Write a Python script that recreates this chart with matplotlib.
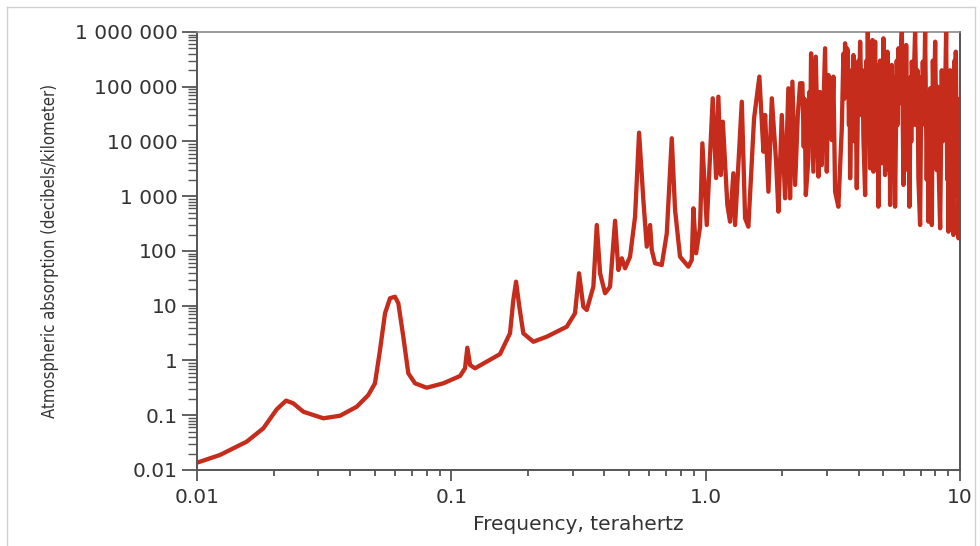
import matplotlib
matplotlib.use("Agg")
import matplotlib.pyplot as plt
from matplotlib.ticker import FixedLocator, FixedFormatter, NullFormatter
from matplotlib.lines import Line2D

# ---- data (read / estimated from the reference picture) ----
freq_thz = [
    0.0100, 0.01231, 0.01568, 0.01823, 0.02058, 0.02239, 0.02392, 0.02618, 0.03139, 0.03651,
    0.04246, 0.04716, 0.0501, 0.05244, 0.05487, 0.05741, 0.06006, 0.06189, 0.06474, 0.06775,
    0.0720, 0.0800, 0.0930, 0.1082, 0.1132, 0.1156, 0.1185, 0.1239, 0.1554, 0.1701,
    0.1753, 0.1797, 0.1851, 0.1919, 0.2101, 0.2372, 0.2843, 0.3064, 0.3178, 0.3304,
    0.3408, 0.3618, 0.3732, 0.3845, 0.4022, 0.4208, 0.4404, 0.4537, 0.4679, 0.4821,
    0.5043, 0.5278, 0.5472, 0.5689, 0.5867, 0.6045, 0.6139, 0.6324, 0.6721, 0.7034,
    0.7357, 0.7580, 0.7930, 0.8551, 0.8817, 0.8949, 0.9169, 0.9506, 0.9707, 1.010,
    1.066, 1.099, 1.122, 1.147, 1.168, 1.217, 1.247, 1.285, 1.305, 1.387,
    1.429, 1.472, 1.550, 1.626, 1.687, 1.713, 1.765, 1.820, 1.892, 1.932,
    1.992, 2.052, 2.114, 2.147, 2.193, 2.247, 2.303, 2.351, 2.401, 2.430,
    2.450, 2.476, 2.535, 2.555, 2.575, 2.597, 2.651, 2.710, 2.775, 2.815,
    2.861, 2.948, 2.994, 3.038, 3.070, 3.100, 3.132, 3.178, 3.228, 3.325,
    3.429, 3.480, 3.505, 3.533, 3.575, 3.600, 3.621,
    3.660, 3.680, 3.698, 3.750, 3.780, 3.809, 3.850, 3.885, 3.928, 3.990,
    4.015, 4.048, 4.110, 4.140, 4.171, 4.236, 4.290, 4.315, 4.340, 4.385,
    4.410, 4.432, 4.480, 4.500, 4.525, 4.566, 4.637, 4.680, 4.730, 4.777,
    4.850, 4.920, 4.997, 5.075, 5.130, 5.155, 5.182, 5.245, 5.280, 5.311,
    5.393, 5.440, 5.500, 5.556, 5.640, 5.680, 5.725, 5.800, 5.850, 5.905,
    5.993, 6.060, 6.100, 6.141, 6.230, 6.280, 6.324, 6.400, 6.430, 6.464,
    6.560, 6.610, 6.660, 6.760, 6.800, 6.862, 6.968, 7.050, 7.090, 7.140,
    7.210, 7.292, 7.400, 7.460, 7.514, 7.631, 7.748, 7.820, 7.900, 7.984,
    8.100, 8.160, 8.226, 8.354, 8.480, 8.540, 8.604, 8.700, 8.819, 8.910,
    8.960, 9.004, 9.150, 9.220, 9.286, 9.421, 9.520, 9.570, 9.627, 9.740,
    9.800, 9.856, 10.01,
]
absorption_db_km = [
    0.0136, 0.0188, 0.0329, 0.0577, 0.128, 0.185, 0.165, 0.116, 0.088, 0.098,
    0.143, 0.234, 0.383, 1.555, 7.28, 13.7, 14.6, 11.1, 2.72, 0.583,
    0.383, 0.318, 0.383, 0.521, 0.72, 1.71, 0.828, 0.72, 1.31, 3.14,
    12.7, 27.5, 9.6, 3.14, 2.20, 2.72, 4.14, 7.28, 39.2, 9.6,
    8.36, 22.3, 298, 39.2, 16.9, 22.3, 357, 45, 73.6, 48.3,
    78.7, 423, 14490, 854, 120, 298, 104, 59.6, 55.5, 210,
    11450, 561, 78.7, 51.7, 68.5, 603, 90.8, 278, 9270, 298,
    61500, 2150, 65800, 2440, 23000, 692, 343, 2630, 298, 53300,
    396, 278, 26500, 153000, 6510, 30500, 1210, 61500, 4280, 522,
    30500, 918, 93700, 918, 124000, 1610, 30500, 116000, 116000, 8000,
    60000, 1050, 4930, 80000, 10000, 408000, 2810, 354000, 2280, 80000,
    3720, 504000, 2810, 164000, 20000, 120000, 10600, 153000, 1210, 644,
    17400, 400000, 60000, 622000, 100000, 500000, 437000,
    20000, 150000, 2130, 200000, 40000, 380000, 10000, 120000, 1400, 300000,
    50000, 665000, 30000, 200000, 11450, 1050, 300000, 40000, 1.01e6, 20000,
    150000, 3240, 200000, 30000, 714000, 2810, 665000, 8000, 250000, 644,
    300000, 4000, 767000, 2440, 200000, 30000, 437000, 3000, 100000, 692,
    250000, 5000, 150000, 644, 300000, 20000, 504000, 50000, 400000, 1.01e6,
    1610, 200000, 20000, 579000, 3000, 100000, 644, 150000, 10000, 287000,
    20000, 300000, 1.01e6, 20000, 200000, 2130, 298, 150000, 20000, 287000,
    30000, 1.01e6, 2000, 60000, 343, 93700, 298, 300000, 20000, 665000,
    3000, 100000, 4930, 260, 200000, 10000, 164000, 20000, 1.01e6, 2000,
    80000, 225, 200000, 5000, 46400, 196, 300000, 20000, 437000, 1000,
    60000, 171, 8630,
]

x_tick_values = [0.01, 0.1, 1.0, 10]
x_tick_labels = ["0.01", "0.1", "1.0", "10"]
y_tick_values = [0.01, 0.1, 1, 10, 100, 1e3, 1e4, 1e5, 1e6]
y_tick_labels = ["0.01", "0.1", "1", "10", "100", "1 000", "10 000", "100 000", "1 000 000"]

x_label = "Frequency, terahertz"
y_label = "Atmospheric absorption (decibels/kilometer)"

# ---- figure ----
fig = plt.figure(figsize=(9.8, 5.46), dpi=100)
fig.patch.set_facecolor("white")

# light frame around the picture
for xs, ys in (([0.0072, 0.0072], [0.0, 0.987]),
               ([0.0072, 0.995], [0.987, 0.987]),
               ([0.995, 0.995], [0.0, 0.987])):
    fig.add_artist(Line2D(xs, ys, transform=fig.transFigure, color="#d0d0d0", lw=1.0))

ax = fig.add_axes([0.2010, 0.1392, 0.7786, 0.8022])
ax.set_xscale("log")
ax.set_yscale("log")
ax.set_xlim(0.01, 10)
ax.set_ylim(0.01, 1e6)

ax.plot(freq_thz, absorption_db_km, color="#c62c1b", lw=3.1,
        solid_joinstyle="round", solid_capstyle="round", zorder=3)

axis_col = "#555555"
for side in ("left", "bottom", "right"):
    ax.spines[side].set_color(axis_col)
    ax.spines[side].set_linewidth(1.4)
ax.spines["top"].set_color("#8a8a8a")
ax.spines["top"].set_linewidth(1.2)

ax.xaxis.set_major_locator(FixedLocator(x_tick_values))
ax.xaxis.set_major_formatter(FixedFormatter(x_tick_labels))
ax.yaxis.set_major_locator(FixedLocator(y_tick_values))
ax.yaxis.set_major_formatter(FixedFormatter(y_tick_labels))
ax.xaxis.set_minor_formatter(NullFormatter())
ax.yaxis.set_minor_formatter(NullFormatter())

ax.tick_params(axis="y", which="major", direction="out", length=11, width=1.3,
               color=axis_col, labelsize=14.5, labelcolor="#333333", pad=3)
ax.tick_params(axis="y", which="minor", direction="out", length=6.5, width=1.0,
               color=axis_col)
ax.tick_params(axis="x", which="major", direction="out", length=8, width=1.3,
               color=axis_col, labelsize=14.5, labelcolor="#333333", pad=5)
ax.tick_params(axis="x", which="minor", direction="out", length=4.5, width=1.3,
               color=axis_col)
ax.tick_params(top=False, right=False, which="both")

ax.set_xlabel(x_label, fontsize=14.5, color="#333333", labelpad=6)
ax.set_ylabel(y_label, fontsize=12, color="#333333", labelpad=11,
              family="DejaVu Sans", fontstretch="condensed")

fig.savefig("out.png", dpi=100, facecolor="white")
